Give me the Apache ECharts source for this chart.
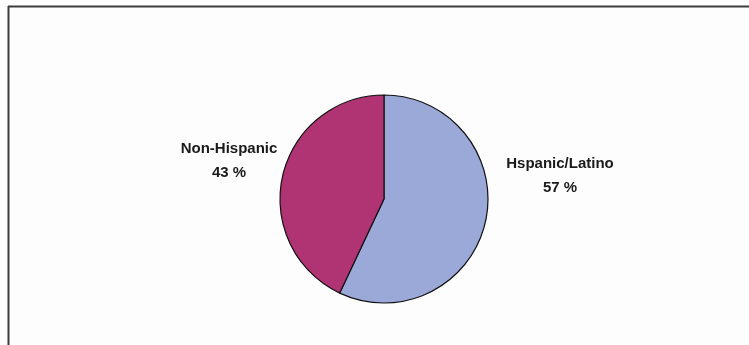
<!DOCTYPE html>
<html>
<head>
<meta charset="utf-8">
<script src="https://cdn.jsdelivr.net/npm/echarts@6/dist/echarts.min.js"></script>
<style>html,body{margin:0;padding:0;background:#fdfdfe;}#c{width:749px;height:345px;}</style>
</head>
<body>
<div id="c"></div>
<script>
const categories = ['Hspanic/Latino', 'Non-Hispanic'];
const values = [57, 43];
const colors = ['#9aa9d8', '#b03373'];
const labelPos = [[560, 176], [229, 161]];

const chart = echarts.init(document.getElementById('c'), null, {renderer: 'canvas'});
chart.setOption({
  backgroundColor: '#fdfdfe',
  animation: false,
  graphic: [
    {type: 'line', shape: {x1: 8, y1: 6.5, x2: 749, y2: 6.5}, style: {stroke: '#3c3c3c', lineWidth: 2}},
    {type: 'line', shape: {x1: 8.5, y1: 6, x2: 8.5, y2: 345}, style: {stroke: '#3c3c3c', lineWidth: 2}}
  ],
  series: [{
    type: 'pie',
    center: [384, 199],
    radius: 104,
    startAngle: 90,
    clockwise: true,
    silent: true,
    itemStyle: {borderColor: '#111', borderWidth: 1.2},
    label: {
      show: true,
      position: 'outside',
      formatter: p => p.name + '\n' + p.value + ' %',
      fontFamily: 'Liberation Sans, Arial, sans-serif',
      fontSize: 15,
      fontWeight: 'bold',
      lineHeight: 24,
      color: '#1a1a1a',
      align: 'center'
    },
    labelLine: {show: false},
    labelLayout: params => ({
      x: labelPos[params.dataIndex][0],
      y: labelPos[params.dataIndex][1],
      align: 'center',
      verticalAlign: 'middle'
    }),
    data: categories.map((c, i) => ({name: c, value: values[i], itemStyle: {color: colors[i]}}))
  }]
});
</script>
</body>
</html>
